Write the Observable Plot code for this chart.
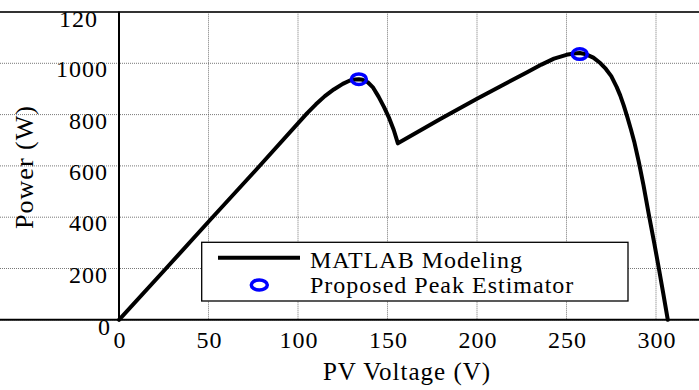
<!DOCTYPE html>
<html>
<head>
<meta charset="utf-8">
<script src="https://cdn.jsdelivr.net/npm/d3@7"></script>
<script src="https://cdn.jsdelivr.net/npm/@observablehq/plot@0.6"></script>
<style>
  html, body { margin: 0; padding: 0; background: #fff; }
  #chart svg text { letter-spacing: 1px; }
</style>
</head>
<body>
<div id="chart"></div>
<script>
// PV curve (MATLAB modeling)
const voltage = [0, 26, 51, 77, 105, 110, 115, 120, 125, 129, 132, 134, 136, 139, 142, 145, 148, 151, 153.5, 155.8, 180, 200, 228, 236, 243, 250, 254, 257.4, 261, 265, 269, 272, 275, 278, 280, 282, 284, 286, 288, 290.4, 293, 296, 299, 301.6, 304, 306.6];
const power   = [0, 198, 390, 588, 805, 840, 872, 898, 920, 933, 937, 938, 936, 926, 905, 870, 830, 785, 740, 688, 785, 862, 965, 995, 1018, 1033, 1038, 1040, 1035, 1022, 1000, 978, 950, 908, 875, 835, 790, 742, 690, 615, 525, 410, 300, 200, 105, 0];
// Proposed peak estimator points
const peakVoltage = [134, 257.4];
const peakPower = [938, 1036];
// ticks
const xTicks = [0, 50, 100, 150, 200, 250, 300];
const xTickLabels = ["0", "50", "100", "150", "200", "250", "300"];
const yTicks = [0, 200, 400, 600, 800, 1000, 1200];
const yTickLabels = ["0", "200", "400", "600", "800", "1000", "120"];

const curve = voltage.map((v, i) => ({v, p: power[i]}));
const peaks = peakVoltage.map((v, i) => ({v, p: peakPower[i]}));

const font = "'Liberation Serif', 'Times New Roman', serif";

const ellipse = {
  draw(ctx) {
    const rx = 7.5, ry = 5.2, k = 0.5523;
    ctx.moveTo(rx, 0);
    ctx.bezierCurveTo(rx, ry * k, rx * k, ry, 0, ry);
    ctx.bezierCurveTo(-rx * k, ry, -rx, ry * k, -rx, 0);
    ctx.bezierCurveTo(-rx, -ry * k, -rx * k, -ry, 0, -ry);
    ctx.bezierCurveTo(rx * k, -ry, rx, -ry * k, rx, 0);
    ctx.closePath();
  }
};

const midTicks = yTicks.map((t, i) => ({t, label: yTickLabels[i]}));

const plot = Plot.plot({
  width: 699,
  height: 390,
  marginLeft: 0, marginRight: 0, marginTop: 0, marginBottom: 0,
  style: {fontFamily: font, fontSize: "24px", background: "#fff", color: "#000", overflow: "hidden"},
  x: {domain: [0, 350], range: [118.5, 745], axis: null},
  y: {domain: [0, 1200], range: [319.3, 11.5], axis: null},
  marks: [
    Plot.gridX(xTicks, {stroke: "#555", strokeOpacity: 1, strokeWidth: 0.8, strokeDasharray: "1,1", y1: 0, y2: 1200}),
    Plot.gridY(yTicks, {stroke: "#555", strokeOpacity: 1, strokeWidth: 0.8, strokeDasharray: "1,1"}),
    Plot.ruleY([1200], {stroke: "#333", strokeWidth: 2}),
    Plot.ruleY([0], {stroke: "#000", strokeWidth: 2}),
    Plot.ruleX([0], {stroke: "#000", strokeWidth: 2, y1: 0, y2: 1200}),
    Plot.line(curve, {x: "v", y: "p", stroke: "#000", strokeWidth: 4, curve: "linear", strokeLinejoin: "round"}),
    Plot.dot(peaks, {x: "v", y: "p", symbol: ellipse, r: 6, stroke: "#0000ff", strokeWidth: 3.5, fill: "none"}),
    // y tick labels
    Plot.text(midTicks.slice(1, 6), {x: () => 0, y: "t", text: "label", textAnchor: "end", dx: -11, dy: 6.5, fill: "#000"}),
    Plot.text(midTicks.slice(0, 1), {x: () => 0, y: "t", text: "label", textAnchor: "end", dx: -8, dy: 8, fill: "#000"}),
    Plot.text(midTicks.slice(6), {x: () => 0, y: "t", text: "label", textAnchor: "end", dx: -21, dy: 7.5, fill: "#000"}),
    // x tick labels
    Plot.text(xTicks.map((t, i) => ({t, label: xTickLabels[i]})), {x: "t", y: () => 0, text: "label", textAnchor: "middle", dx: 1, dy: 21, fill: "#000"})
  ]
});

const svg = d3.select(plot);
// axis labels
svg.append("text")
  .attr("x", 407).attr("y", 380)
  .attr("text-anchor", "middle")
  .attr("font-family", font).attr("font-size", 25)
  .text("PV Voltage (V)");
svg.append("text")
  .attr("transform", "translate(33,167) rotate(-90)")
  .attr("text-anchor", "middle")
  .attr("font-family", font).attr("font-size", 26)
  .text("Power (W)");

// legend
const lg = svg.append("g");
lg.append("rect")
  .attr("x", 201.7).attr("y", 242.3).attr("width", 426.3).attr("height", 58.7)
  .attr("fill", "#fff").attr("stroke", "#000").attr("stroke-width", 1.3);
lg.append("line")
  .attr("x1", 218).attr("x2", 300).attr("y1", 257.7).attr("y2", 257.7)
  .attr("stroke", "#000").attr("stroke-width", 4);
lg.append("ellipse")
  .attr("cx", 259.3).attr("cy", 285).attr("rx", 8).attr("ry", 5)
  .attr("fill", "none").attr("stroke", "#0000ff").attr("stroke-width", 3.5);
lg.append("text")
  .attr("x", 310).attr("y", 268)
  .attr("text-anchor", "start")
  .attr("font-family", font).attr("font-size", 24)
  .text("MATLAB Modeling");
lg.append("text")
  .attr("x", 310).attr("y", 292.7)
  .attr("text-anchor", "start")
  .attr("font-family", font).attr("font-size", 24)
  .text("Proposed Peak Estimator");

document.getElementById("chart").appendChild(plot);
</script>
</body>
</html>
